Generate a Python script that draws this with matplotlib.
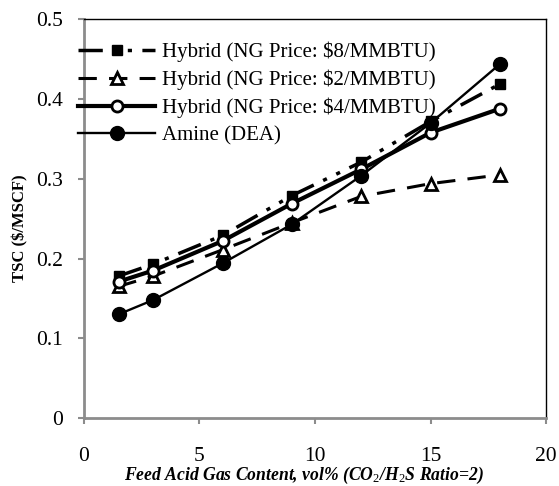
import matplotlib
matplotlib.use("Agg")
import matplotlib.pyplot as plt

# feed acid gas content (vol%)
feed_gas = [1.5, 3, 6, 9, 12, 15, 18]

# total separation cost, $/MSCF
hybrid_ng8 = [0.178, 0.193, 0.229, 0.279, 0.321, 0.372, 0.419]
hybrid_ng2 = [0.165, 0.178, 0.211, 0.245, 0.278, 0.294, 0.305]
hybrid_ng4 = [0.171, 0.185, 0.222, 0.269, 0.312, 0.358, 0.388]
amine_dea = [0.130, 0.148, 0.194, 0.243, 0.304, 0.370, 0.444]

labels = ["Hybrid (NG Price: $8/MMBTU)", "Hybrid (NG Price: $2/MMBTU)",
          "Hybrid (NG Price: $4/MMBTU)", "Amine (DEA)"]

plt.rcParams["font.family"] = ["Liberation Serif", "DejaVu Serif"]
plt.rcParams["mathtext.fontset"] = "custom"
plt.rcParams["mathtext.rm"] = "Liberation Serif"
plt.rcParams["mathtext.it"] = "Liberation Serif:italic:bold"
plt.rcParams["mathtext.bf"] = "Liberation Serif:bold"

fig = plt.figure(figsize=(5.59, 4.86), dpi=100)
ax = fig.add_axes([0.150, 0.140, 0.827, 0.820])

ax.plot(feed_gas, hybrid_ng8, color="black", lw=2.5, dashes=(7, 3, 1.2, 3, 1.2, 3),
        marker="s", ms=7.5, mfc="black", label=labels[0])
ax.plot(feed_gas, hybrid_ng2, color="black", lw=2.2, dashes=(6, 4),
        marker="^", ms=8, mfc="white", mew=2, label=labels[1])
ax.plot(feed_gas, hybrid_ng4, color="black", lw=3.0, ls="-",
        marker="o", ms=8, mfc="white", mew=2, label=labels[2])
ax.plot(feed_gas, amine_dea, color="black", lw=1.7, ls="-",
        marker="o", ms=10, mfc="black", label=labels[3])

ax.set_xlim(0, 20)
ax.set_ylim(0, 0.5)
ax.set_xticks([0, 5, 10, 15, 20])
ax.set_yticks([0, 0.1, 0.2, 0.3, 0.4, 0.5])
ax.set_yticklabels(["0", "0.1", "0.2", "0.3", "0.4", "0.5"])

for side in ["left", "bottom"]:
    ax.spines[side].set_color("#8c8c8c")
    ax.spines[side].set_linewidth(2)
for side in ["top", "right"]:
    ax.spines[side].set_color("black")
    ax.spines[side].set_linewidth(1)

ax.tick_params(axis="both", colors="#8c8c8c", labelcolor="black", labelsize=15.5,
               width=1.5, length=4, direction="out")
ax.tick_params(axis="y", pad=11)
ax.tick_params(axis="x", pad=17)

ax.set_ylabel("TSC ($/MSCF)", fontsize=12, fontweight="bold")
ax.yaxis.set_label_coords(-0.12, 0.477)
fig.text(304 / 559, 1 - 475 / 486,
         "Feed Acid Gas Content, vol% (CO$_2$/H$_2$S Ratio=2)",
         fontsize=12.7, fontweight="bold", style="italic",
         ha="center", va="center")

ax.legend(loc="upper left", bbox_to_anchor=(-0.03, 0.965), frameon=False,
          fontsize=15, handlelength=3.7, handletextpad=0.3, labelspacing=0.36,
          borderaxespad=0)

fig.savefig("out.png", dpi=100)
